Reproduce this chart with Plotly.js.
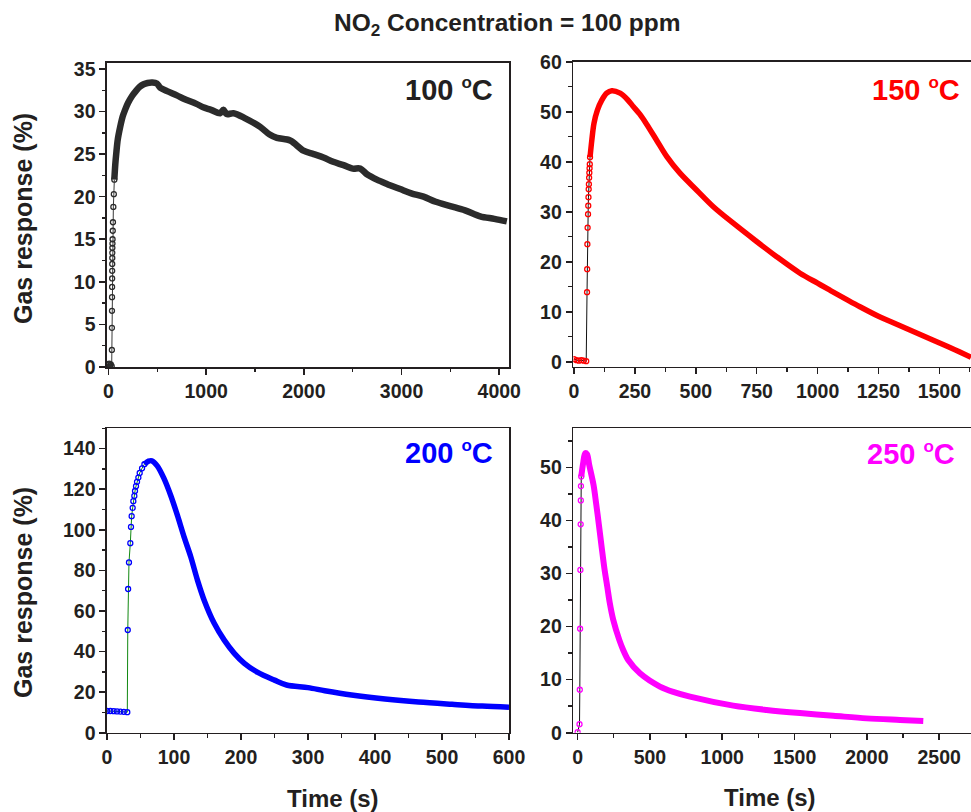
<!DOCTYPE html>
<html>
<head>
<meta charset="utf-8">
<script src="https://cdn.plot.ly/plotly-3.0.1.min.js"></script>
<style>html,body{margin:0;padding:0;background:#fff;overflow:hidden}#chart{width:971px;height:812px}</style>
</head>
<body>
<div id="chart"></div>
<script>
// ---------- data ----------
// 100 °C
const rise100T = [0, 8, 16, 24, 33, 35, 35.5, 36, 36.5, 37, 37.5, 38, 38.5, 39, 39.5, 40, 41, 42, 44, 46, 50, 55, 60];
const rise100R = [0.3, 0.4, 0.2, 0.3, 0.1, 2.0, 4.6, 6.6, 8.2, 9.4, 10.4, 11.3, 12.1, 12.8, 13.4, 14.0, 14.5, 15.0, 16.0, 17.0, 18.8, 20.3, 22.0];
const main100T = [60, 70, 80, 95, 120, 145, 170, 200, 240, 280, 320, 360, 400, 450, 495, 530, 600, 700, 770, 900, 970, 1050, 1143, 1177, 1210, 1280, 1400, 1553, 1650, 1724, 1860, 1996, 2100, 2201, 2300, 2406, 2500, 2577, 2650, 2747, 2850, 2986, 3100, 3225, 3350, 3499, 3650, 3805, 3950, 4078];
const main100R = [22.0, 23.8, 25.1, 26.7, 28.2, 29.4, 30.2, 31.0, 31.8, 32.4, 32.9, 33.2, 33.35, 33.4, 33.3, 32.8, 32.4, 31.9, 31.5, 30.9, 30.5, 30.2, 29.8, 30.2, 29.7, 29.8, 29.2, 28.2, 27.3, 26.9, 26.6, 25.4, 25.0, 24.6, 24.1, 23.7, 23.3, 23.3, 22.6, 22.0, 21.5, 20.9, 20.4, 20.0, 19.4, 18.9, 18.4, 17.7, 17.4, 17.1];
// 150 °C
const rise150T = [0, 10, 20, 30, 40, 50, 53.4, 54, 54.8, 55.8, 57.5, 58.4, 59.3, 60.2, 61, 62, 62.9, 63.8, 64.7, 65.7];
const rise150R = [0.5, 0.3, 0.2, 0.3, 0.2, 0.1, 13.9, 18.5, 23.5, 26.8, 29.5, 31.2, 32.9, 34.5, 35.5, 36.8, 37.8, 38.7, 39.5, 40.9];
const main150T = [65.7, 73, 82, 96, 114, 134, 155, 189, 220, 244, 270, 298, 339, 381, 435, 504, 572, 654, 743, 832, 928, 1000, 1051, 1174, 1250, 1325, 1400, 1475, 1550, 1630];
const main150R = [40.9, 44.3, 47.7, 50.3, 52.3, 53.7, 54.2, 53.7, 52.4, 51.0, 49.5, 47.5, 44.3, 41.0, 37.7, 34.3, 31.0, 27.7, 24.3, 21.0, 17.7, 15.7, 14.3, 11.0, 9.1, 7.5, 5.9, 4.3, 2.7, 0.9];
// 200 °C
const rise200T = [0, 5, 10, 15, 20, 25, 30.3, 31, 31.5, 32.8, 34.8, 35.8, 36.8, 38.3, 39.3, 40.8, 41.8, 43.3, 44.8, 46.8, 48.8, 52.3, 55.8];
const rise200R = [10.7, 10.7, 10.6, 10.5, 10.4, 10.3, 10.1, 50.6, 70.8, 83.9, 93.4, 101.4, 106.7, 110.8, 114.1, 116.7, 119.1, 121.5, 123.6, 125.7, 128.0, 130.3, 132.3];
const main200T = [55.8, 62, 67, 75, 85, 95, 105, 115, 125, 135, 145, 160, 175, 190, 205, 225, 250, 268, 300, 325, 365, 415, 465, 515, 560, 600];
const main200R = [132.3, 133.8, 134.0, 131.5, 125.3, 117.0, 107.2, 96.5, 86.7, 75.2, 65.3, 53.9, 45.6, 39.1, 34.2, 29.7, 25.9, 23.5, 22.2, 20.7, 18.6, 16.6, 15.1, 14.0, 13.1, 12.6];
// 250 °C
const rise250T = [0, 13, 15, 17, 19, 21, 22, 23, 25];
const rise250R = [0.1, 1.6, 8.1, 19.6, 30.7, 39.3, 43.8, 46.5, 48.3];
const main250T = [25, 38, 52, 65, 80, 110, 129, 147, 166, 185, 205, 222, 246, 288, 315, 350, 431, 569, 661, 777, 1076, 1306, 1537, 1768, 1998, 2229, 2390];
const main250R = [48.3, 50.8, 52.7, 52.5, 50.5, 46.7, 43.0, 39.2, 35.0, 31.0, 27.5, 24.5, 21.3, 17.5, 15.6, 13.7, 11.2, 8.7, 7.7, 6.8, 5.1, 4.3, 3.7, 3.2, 2.7, 2.4, 2.2];

const panelTemps = ['100', '150', '200', '250'];
const titleText = '<b>NO<sub>2</sub> Concentration = 100 ppm</b>';
const yTitle = 'Gas response (%)';
const xTitle = 'Time (s)';

// ---------- styling ----------
const W = 971, H = 812;
const FONT = 'Liberation Sans, Arial, Helvetica, sans-serif';
const INK = '#231f20';
const px = v => v / W, py = v => 1 - v / H;

function xax(d0, d1, range, dtick, mdt, anchor) {
  return {domain: [px(d0), d1 >= W ? 1 : px(d1)], range: range, anchor: anchor, dtick: dtick, tick0: 0,
    showline: true, linecolor: INK, linewidth: 1.6, mirror: true, ticks: 'outside', ticklen: 6, tickwidth: 1.6,
    tickcolor: INK, showgrid: false, zeroline: false,
    tickfont: {family: FONT, size: 19.5, color: INK, weight: 'bold'},
    minor: {dtick: mdt, tick0: 0, ticks: 'outside', ticklen: 3.5, tickwidth: 1.4, tickcolor: INK, showgrid: false}};
}
function yax(top, bot, range, dtick, mdt, anchor, mirror) {
  return {domain: [py(bot), py(top)], range: range, anchor: anchor, dtick: dtick, tick0: 0,
    showline: true, linecolor: INK, linewidth: 1.6, mirror: mirror, ticks: 'outside', ticklen: 6, tickwidth: 1.6,
    tickcolor: INK, showgrid: false, zeroline: false,
    tickfont: {family: FONT, size: 19.5, color: INK, weight: 'bold'},
    minor: {dtick: mdt, tick0: 0, ticks: 'outside', ticklen: 3.5, tickwidth: 1.4, tickcolor: INK, showgrid: false}};
}

function pair(tR, rR, tM, rM, col, lineCol, xa, ya, bandW) {
  return [
    {x: tM, y: rM, xaxis: xa, yaxis: ya, mode: 'lines', type: 'scatter',
     line: {color: col, width: bandW, shape: 'spline', smoothing: 0.9}, hoverinfo: 'skip'},
    {x: tR, y: rR, xaxis: xa, yaxis: ya, mode: 'lines+markers', type: 'scatter',
     line: {color: lineCol, width: 1}, marker: {symbol: 'circle-open', size: 5, color: col, line: {width: 1.3, color: col}}}
  ];
}

const data = [].concat(
  pair(rise100T, rise100R, main100T, main100R, '#2b2b2b', '#3a3a3a', 'x', 'y', 6.5),
  pair(rise150T, rise150R, main150T, main150R, '#ff0000', '#111111', 'x2', 'y2', 5.5),
  pair(rise200T, rise200R, main200T, main200R, '#0000ff', '#118811', 'x3', 'y3', 5.5),
  pair(rise250T, rise250R, main250T, main250R, '#ff00ff', '#111111', 'x4', 'y4', 6)
);

const labCol = ['#231f20', '#ff0000', '#0000ff', '#ff00ff'];
const labPos = [[495, 89], [962, 89], [495, 452], [957, 453]];
const annotations = [
  {text: titleText, x: px(507), y: py(25), xref: 'paper', yref: 'paper', showarrow: false, xanchor: 'center', yanchor: 'middle',
   font: {family: FONT, size: 24.5, color: INK}},
  {text: '<b>' + yTitle + '</b>', x: px(23), y: py(219), xref: 'paper', yref: 'paper', showarrow: false, textangle: -90,
   xanchor: 'center', yanchor: 'middle', font: {family: FONT, size: 25, color: INK}},
  {text: '<b>' + yTitle + '</b>', x: px(23), y: py(593), xref: 'paper', yref: 'paper', showarrow: false, textangle: -90,
   xanchor: 'center', yanchor: 'middle', font: {family: FONT, size: 25, color: INK}},
  {text: '<b>' + xTitle + '</b>', x: px(333), y: py(798), xref: 'paper', yref: 'paper', showarrow: false,
   xanchor: 'center', yanchor: 'middle', font: {family: FONT, size: 24, color: INK}},
  {text: '<b>' + xTitle + '</b>', x: px(770), y: py(797), xref: 'paper', yref: 'paper', showarrow: false,
   xanchor: 'center', yanchor: 'middle', font: {family: FONT, size: 24, color: INK}}
];
panelTemps.forEach((t, i) => annotations.push({
  text: '<b>' + t + ' <sup><span style="font-size:17px">o</span></sup>C</b>',
  x: px(labPos[i][0]), y: py(labPos[i][1]),
  xref: 'paper', yref: 'paper', showarrow: false, xanchor: 'right', yanchor: 'middle',
  font: {family: FONT, size: 29, color: labCol[i]}}));

const layout = {
  width: W, height: H, margin: {l: 0, r: 0, t: 0, b: 0}, paper_bgcolor: '#fff', plot_bgcolor: '#fff', showlegend: false,
  xaxis: xax(107, 509, [-15, 4100], 1000, 500, 'y'),
  yaxis: yax(63, 367, [0, 35.7], 5, 2.5, 'x', true),
  xaxis2: xax(573.3, 971, [-3, 1630], 250, 125, 'y2'),
  yaxis2: yax(61.7, 366.7, [-1, 60], 10, 5, 'x2', false),
  xaxis3: xax(107, 509, [0, 600], 100, 50, 'y3'),
  yaxis3: yax(428.3, 732.7, [0, 150], 20, 10, 'x3', true),
  xaxis4: xax(573.3, 971, [-30, 2720], 500, 250, 'y4'),
  yaxis4: yax(428.3, 732.7, [0, 57.4], 10, 5, 'x4', false),
  annotations: annotations
};
Plotly.newPlot('chart', data, layout, {displayModeBar: false, staticPlot: true});
</script>
</body>
</html>
